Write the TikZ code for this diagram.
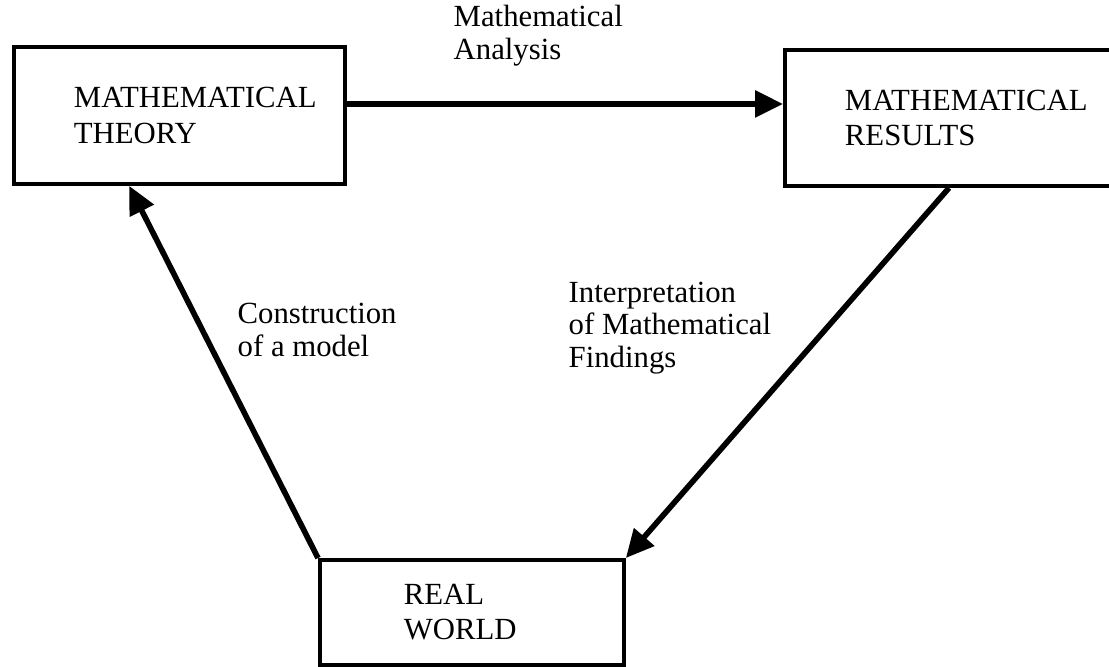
\documentclass[tikz,border=0pt]{standalone}
\usepackage{fontspec}
\setmainfont{Liberation Serif}
\usetikzlibrary{arrows.meta,positioning,calc}

\begin{document}
\begin{tikzpicture}[font=\fontsize{8.75}{10}\selectfont,
    box/.style={draw, line width=1.1pt, align=left, inner sep=0pt, anchor=north west},
    flow/.style={line width=1.6pt, -{Triangle[length=2.8mm,width=2.6mm]}},
    lbl/.style={align=left, anchor=base west, inner sep=0pt,
      font=\fontsize{8.75}{9.2}\selectfont}]
    \useasboundingbox (0,0) rectangle (11.09,-6.66);
    % the three boxes
    \node[box, minimum width=3.31cm, minimum height=1.37cm, text width=2.11cm]
      (theory) at (0.12,-0.45) {MATHEMATICAL\\THEORY};
    \node[box, minimum width=3.42cm, minimum height=1.36cm, text width=2.22cm]
      (results) at (7.83,-0.48) {MATHEMATICAL\\RESULTS};
    \node[box, minimum width=3.04cm, minimum height=1.05cm, text width=1.36cm]
      (world) at (3.18,-5.58) {REAL\\WORLD};
    % labels on the arrows (anchored at the last line)
    \node[lbl] (analysis) at (4.53,-0.59) {Mathematical\\Analysis};
    \node[lbl] (model) at (2.37,-3.56) {Construction\\of a model};
    \node[lbl] (interp) at (5.68,-3.67) {Interpretation\\of Mathematical\\Findings};
    % the cycle
    \draw[flow] ([yshift=1.15mm]theory.east) -- ([yshift=1.15mm]theory.east -| results.west);
    \draw[flow] ($(results.south west)!0.48!(results.south east)$) -- (world.north east);
    \draw[flow] (world.north west) -- ($(theory.south west)!0.35!(theory.south east)$);
\end{tikzpicture}
\end{document}
